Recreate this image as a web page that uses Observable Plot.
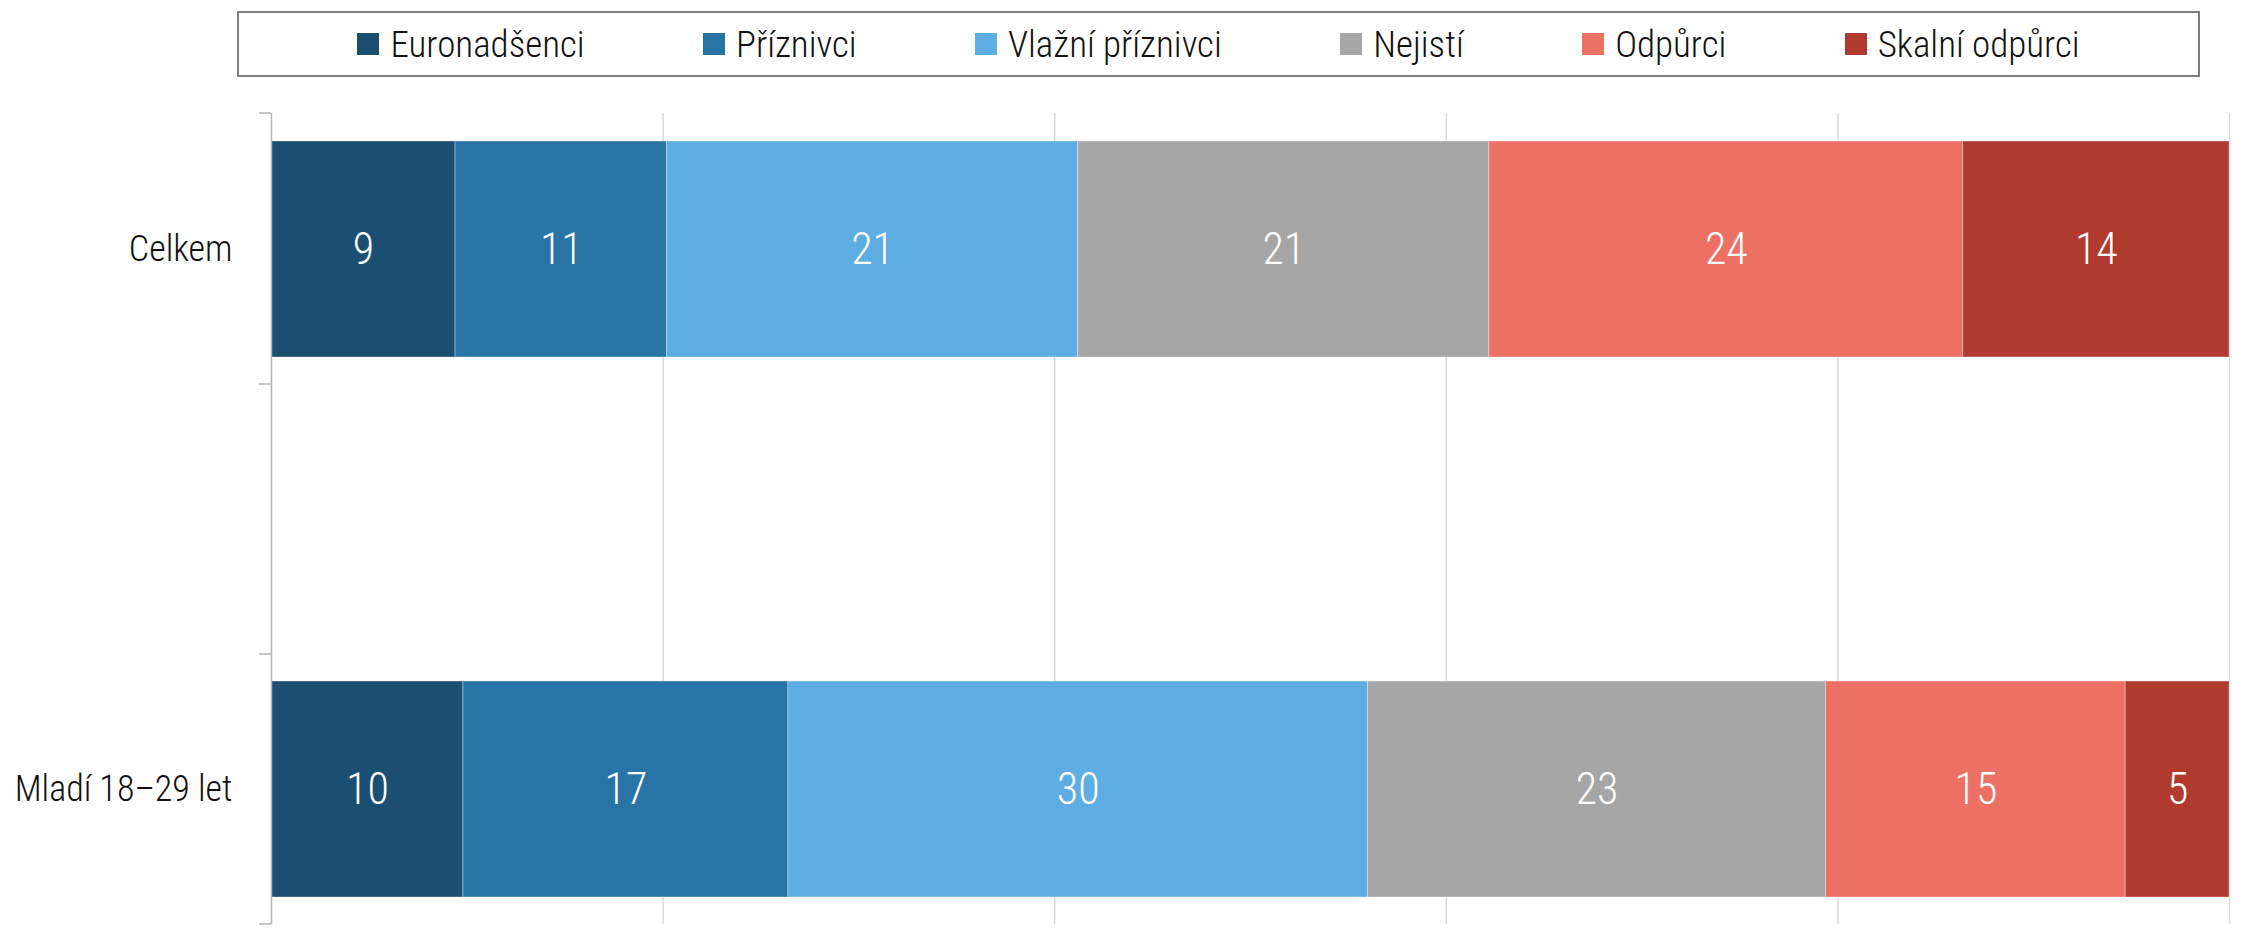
<!DOCTYPE html>
<html>
<head>
<meta charset="utf-8">
<script src="https://cdn.jsdelivr.net/npm/d3@7"></script>
<script src="https://cdn.jsdelivr.net/npm/@observablehq/plot@0.6"></script>
<style>
  html, body { margin: 0; padding: 0; background: #fff; }
  body { width: 2254px; height: 941px; overflow: hidden; font-family: "Roboto Condensed", Roboto, "Liberation Sans Narrow", sans-serif; font-weight: 300; }
  #legendWrap { position: relative; height: 100px; }
  #legend { position: absolute; left: 237px; top: 11px; width: 1963px; height: 66px; box-sizing: border-box;
    border: 2px solid #7f7f7f; display: flex; justify-content: space-evenly; align-items: center; }
  .item { display: flex; align-items: center; font-size: 37px; color: #111; }
  .sw { width: 22px; height: 22px; margin-right: 11px; }
  svg text { font-family: "Roboto Condensed", Roboto, sans-serif; font-weight: 300; }
</style>
</head>
<body>
<div id="legendWrap"><div id="legend"></div></div>
<div id="chart"></div>
<script>
const categories = ["Euronadšenci", "Příznivci", "Vlažní příznivci", "Nejistí", "Odpůrci", "Skalní odpůrci"];
const colors = ["#1B4F72", "#2874A6", "#5DADE2", "#A6A6A6", "#EC7063", "#B03A2E"];
const groups = ["Celkem", " ", "Mladí 18–29 let"];
const celkem = [9.4, 10.8, 21.0, 21.0, 24.2, 13.6];
const mladi = [9.8, 16.6, 29.6, 23.4, 15.3, 5.3];
const gridTicks = [20, 40, 60, 80, 100];

const data = [];
categories.forEach((c, i) => data.push({group: groups[0], category: c, value: celkem[i]}));
categories.forEach((c, i) => data.push({group: groups[2], category: c, value: mladi[i]}));

// legend
const legend = document.getElementById("legend");
categories.forEach((c, i) => {
  const it = document.createElement("div");
  it.className = "item";
  it.innerHTML = `<span class="sw" style="background:${colors[i]}"></span><span>${c}</span>`;
  legend.appendChild(it);
});

const chart = Plot.plot({
  width: 2254,
  height: 841,
  marginTop: 13,
  marginBottom: 17,
  marginLeft: 271,
  marginRight: 25,
  style: {fontFamily: "'Roboto Condensed', Roboto, sans-serif", fontWeight: 300, background: "#fff"},
  x: {domain: [0, 100], axis: null},
  y: {domain: groups, paddingInner: 0.2, paddingOuter: 0.1, label: null},
  color: {domain: categories, range: colors},
  marks: [
    Plot.ruleX(gridTicks, {stroke: "#d9d9d9", strokeWidth: 1.5}),
    Plot.barX(data, Plot.stackX({x: "value", y: "group", fill: "category", stroke: "#ffffff", strokeOpacity: 0.35, strokeWidth: 1})),
    Plot.text(data, Plot.stackX({x: "value", y: "group", text: d => String(Math.round(d.value)), fill: "white", fontSize: 44, fontWeight: 300})),
    Plot.ruleX([0], {stroke: "#b3b3b3", strokeWidth: 1.5}),
    Plot.axisY({tickSize: 0, tickPadding: 39, fontSize: 36, fontWeight: 300, fill: "#111", label: null})
  ]
});
document.getElementById("chart").appendChild(chart);

// tick marks at band boundaries (Excel-style category axis)
const ys = chart.scale("y");
const xs = chart.scale("x");
const x0 = xs.apply(0);
const bounds = [ys.range[0]];
groups.forEach(g => bounds.push(ys.apply(g) + ys.bandwidth + ys.paddingInner * ys.step / 2));
bounds[bounds.length - 1] = ys.range[1];
d3.select(chart).append("g")
  .selectAll("line").data(bounds).join("line")
  .attr("x1", x0 - 12).attr("x2", x0)
  .attr("y1", d => d).attr("y2", d => d)
  .attr("stroke", "#b3b3b3").attr("stroke-width", 1.5);
</script>
</body>
</html>
